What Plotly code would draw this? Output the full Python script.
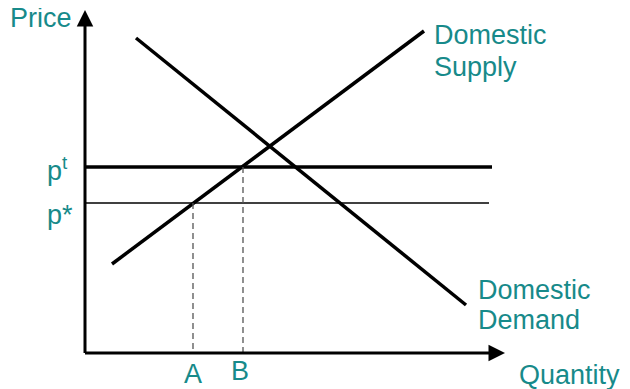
import plotly.graph_objects as go

# Data (quantity / price units; origin at the axes corner)
supply_q = [27, 339]
supply_p = [89, 322]
demand_q = [51, 381]
demand_p = [315, 48]
p_t = 186
p_star = 150
p_t_end = 407
p_star_end = 404
q_A = 108
q_B = 158
x_axis_end = 420
y_axis_end = 343

TEAL = "#178a8a"
FONT = "Liberation Sans, Arial, sans-serif"
FS = 27

fig = go.Figure()

fig.add_trace(go.Scatter(x=supply_q, y=supply_p, mode="lines",
                         line=dict(color="black", width=3.5), hoverinfo="skip"))
fig.add_trace(go.Scatter(x=demand_q, y=demand_p, mode="lines",
                         line=dict(color="black", width=3.5), hoverinfo="skip"))
fig.add_trace(go.Scatter(x=[0, p_t_end], y=[p_t, p_t], mode="lines",
                         line=dict(color="black", width=3.5), hoverinfo="skip"))
fig.add_trace(go.Scatter(x=[0, p_star_end], y=[p_star, p_star], mode="lines",
                         line=dict(color="black", width=1.6), hoverinfo="skip"))
fig.add_trace(go.Scatter(x=[q_A, q_A], y=[p_star, 0], mode="lines",
                         line=dict(color="#555555", width=1.3, dash="6px,4px"), hoverinfo="skip"))
fig.add_trace(go.Scatter(x=[q_B, q_B], y=[p_t, 0], mode="lines",
                         line=dict(color="#555555", width=1.3, dash="6px,4px"), hoverinfo="skip"))

# axes with arrows
fig.add_annotation(x=x_axis_end, y=0, ax=-1.5, ay=0, xref="x", yref="y", axref="x", ayref="y",
                   showarrow=True, arrowhead=2, arrowsize=1.1, arrowwidth=3, arrowcolor="black", text="")
fig.add_annotation(x=0, y=y_axis_end, ax=0, ay=-1.5, xref="x", yref="y", axref="x", ayref="y",
                   showarrow=True, arrowhead=2, arrowsize=1.1, arrowwidth=3, arrowcolor="black", text="")

def label(text, x, y, xanchor="left", yanchor="middle", xref="x"):
    fig.add_annotation(x=x, y=y, xref=xref, yref="y", text=text, showarrow=False,
                       xanchor=xanchor, yanchor=yanchor,
                       font=dict(family=FONT, size=FS, color=TEAL), align="left")

label("Price", 0, 335, xref="paper")
label("p<sup>t</sup>", -15, 184, xanchor="right")
label("p*", -10, 138, xanchor="right")
label("A", q_A, -21, xanchor="center")
label("B", q_B - 3, -18, xanchor="center")
label("Domestic", 347, 318)
label("Supply", 347, 286)
label("Domestic", 391, 63)
label("Demand", 391, 33)
label("Quantity", 432, -22)

fig.update_layout(
    width=622, height=381,
    margin=dict(l=0, r=0, t=0, b=0),
    paper_bgcolor="white", plot_bgcolor="white",
    showlegend=False,
    xaxis=dict(range=[-77, 545], visible=False, fixedrange=True),
    yaxis=dict(range=[-36, 345], visible=False, fixedrange=True),
)

fig.write_html("out.html")
